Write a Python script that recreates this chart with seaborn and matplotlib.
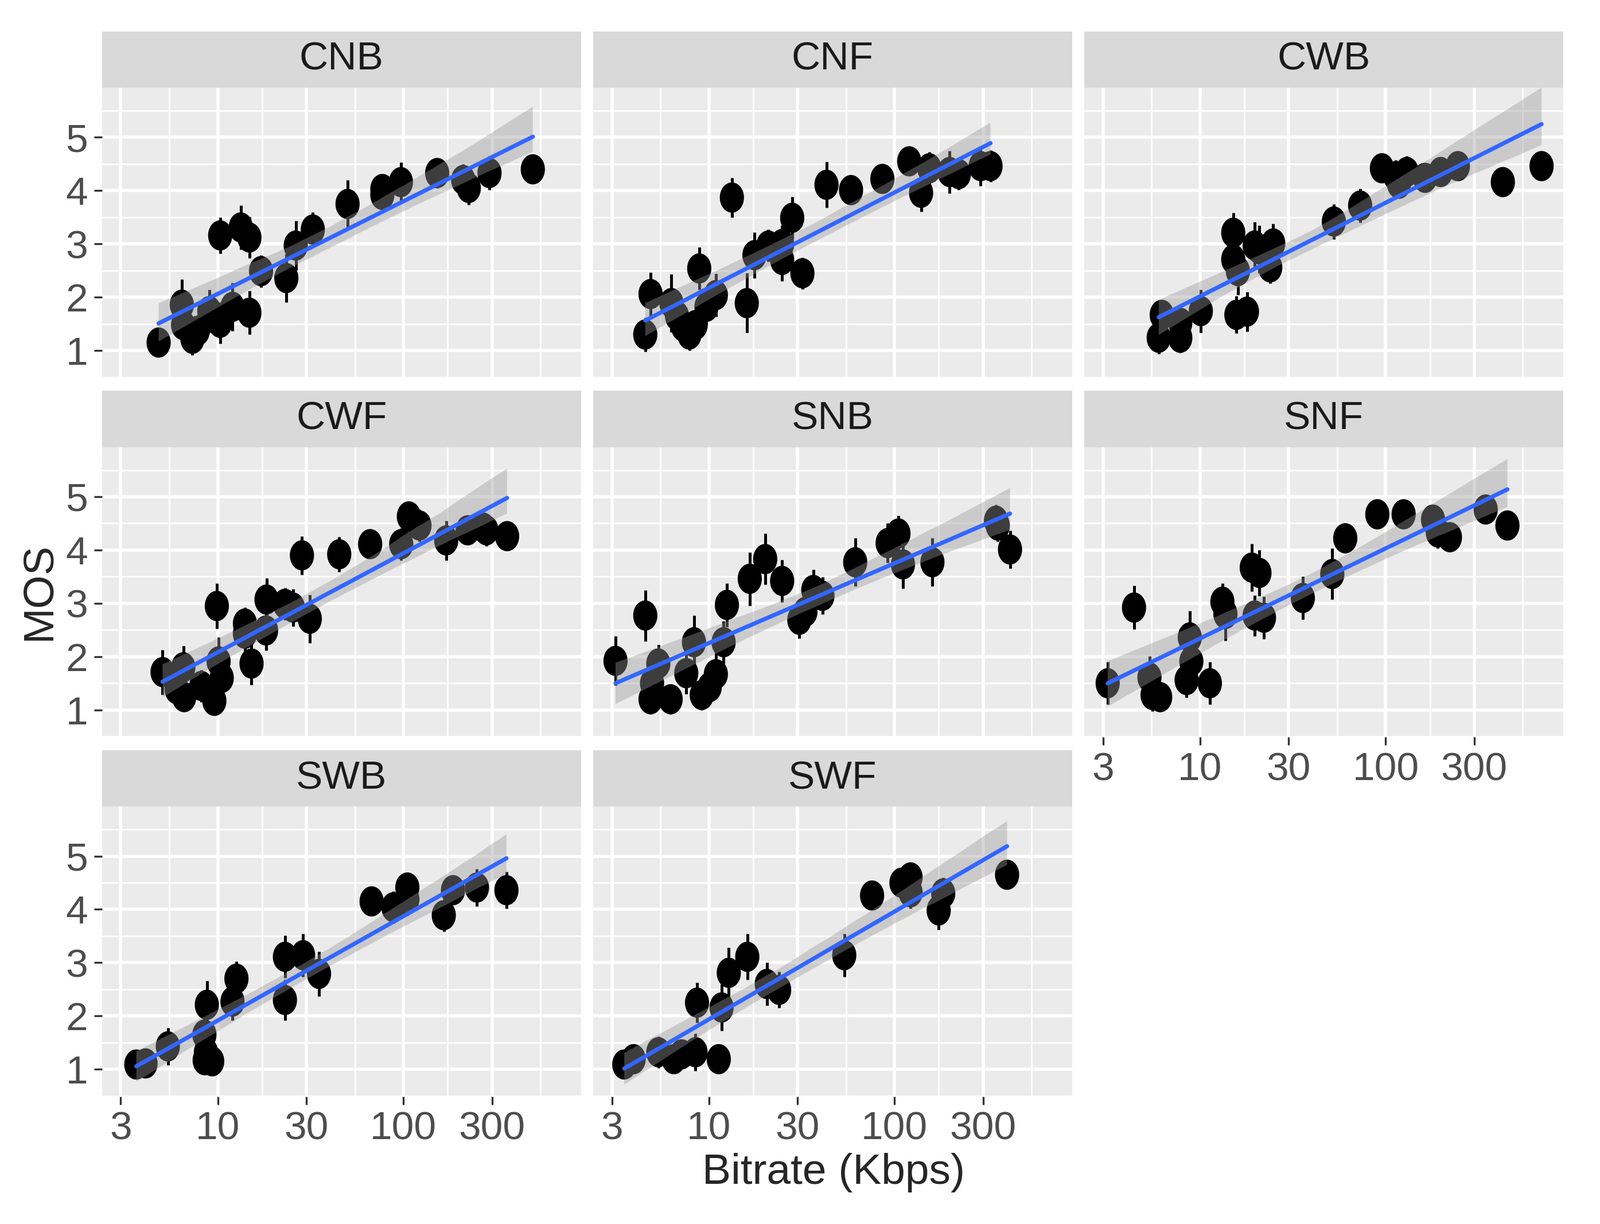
import numpy as np
import pandas as pd
import seaborn as sns
import matplotlib.pyplot as plt
from matplotlib.patches import Rectangle
from matplotlib.ticker import FixedLocator, NullFormatter

# panel order (facet_wrap, 3 per row)
conditions = ["CNB", "CNF", "CWB", "CWF", "SNB", "SNF", "SWB", "SWF"]

# values: bitrate (Kbps), MOS, half-width of the error bar
cnb_bitrate = [4.8, 6.4, 6.5, 7.3, 7.8, 9.0, 10.3, 10.3, 12.0, 13.3, 14.8, 14.8, 17.1,
               23.4, 26.3, 32.5, 50, 77, 77, 97, 152, 210, 225, 291, 498]
cnb_mos = [1.15, 1.86, 1.48, 1.22, 1.37, 1.74, 1.52, 3.16, 1.82, 3.31, 3.12, 1.71, 2.49,
           2.36, 2.97, 3.27, 3.75, 4.03, 3.92, 4.16, 4.33, 4.20, 4.05, 4.33, 4.40]
cnb_ci = [0.15, 0.48, 0.30, 0.30, 0.30, 0.40, 0.39, 0.34, 0.45, 0.41, 0.39, 0.41, 0.30,
          0.45, 0.46, 0.32, 0.45, 0.28, 0.30, 0.37, 0.28, 0.30, 0.32, 0.32, 0.25]

cnf_bitrate = [4.54, 4.85, 6.28, 6.73, 7.26, 7.85, 8.48, 8.87, 9.7, 10.9, 13.3, 16.0, 17.6,
               20.9, 24.8, 24.8, 28.1, 31.9, 43, 58.3, 86, 120, 139, 154, 198, 222, 291, 329]
cnf_mos = [1.30, 2.06, 1.89, 1.65, 1.45, 1.30, 1.48, 2.54, 1.82, 2.04, 3.87, 1.89, 2.79,
           2.97, 3.00, 2.70, 3.49, 2.45, 4.11, 4.01, 4.22, 4.55, 3.96, 4.42, 4.35, 4.31, 4.46, 4.46]
cnf_ci = [0.32, 0.41, 0.54, 0.40, 0.30, 0.30, 0.35, 0.40, 0.35, 0.40, 0.37, 0.56, 0.43,
          0.30, 0.35, 0.40, 0.40, 0.30, 0.43, 0.28, 0.27, 0.25, 0.35, 0.30, 0.40, 0.30, 0.37, 0.30]

cwb_bitrate = [5.99, 6.22, 7.83, 7.83, 10.1, 15.1, 15.1, 15.7, 17.9, 16.0, 19.7, 20.9, 24.8,
               23.9, 52.6, 72.9, 95.5, 113, 130, 118, 163, 198, 245, 428, 692]
cwb_mos = [1.24, 1.67, 1.24, 1.52, 1.74, 3.21, 2.71, 1.67, 1.73, 2.49, 2.97, 2.90, 3.01,
           2.56, 3.42, 3.72, 4.42, 4.27, 4.35, 4.13, 4.24, 4.35, 4.46, 4.16, 4.46]
cwb_ci = [0.30, 0.28, 0.28, 0.30, 0.40, 0.37, 0.40, 0.35, 0.37, 0.45, 0.44, 0.45, 0.37,
          0.30, 0.33, 0.32, 0.23, 0.30, 0.30, 0.25, 0.27, 0.25, 0.25, 0.24, 0.25]

cwf_bitrate = [5.04, 6.52, 6.59, 6.0, 8.15, 9.58, 9.88, 10.5, 10.1, 14.0, 14.0, 15.2, 18.3,
               18.2, 23.0, 25.4, 28.4, 31.3, 45.1, 66.2, 97.3, 107, 122, 170, 222, 269, 280, 362]
cwf_mos = [1.71, 1.80, 1.24, 1.39, 1.45, 1.17, 2.95, 1.60, 1.91, 2.62, 2.43, 1.87, 3.07,
           2.49, 2.99, 2.92, 3.90, 2.71, 3.92, 4.11, 4.11, 4.63, 4.46, 4.18, 4.37, 4.42, 4.37, 4.26]
cwf_ci = [0.42, 0.40, 0.25, 0.30, 0.30, 0.25, 0.43, 0.40, 0.45, 0.30, 0.35, 0.40, 0.40,
          0.37, 0.30, 0.35, 0.36, 0.45, 0.33, 0.25, 0.30, 0.22, 0.30, 0.37, 0.25, 0.25, 0.30, 0.22]

snb_bitrate = [3.14, 4.54, 4.85, 5.34, 4.94, 6.22, 7.55, 8.31, 9.15, 10.1, 10.9, 12.0, 12.5,
               16.6, 20.1, 24.8, 30.7, 36.5, 40.9, 33.1, 61.4, 91.8, 105, 111, 160, 352, 360, 419]
snb_mos = [1.92, 2.77, 1.20, 1.87, 1.50, 1.20, 1.69, 2.27, 1.28, 1.43, 1.67, 2.27, 2.97,
           3.46, 3.83, 3.42, 2.69, 3.25, 3.14, 2.84, 3.77, 4.13, 4.31, 3.73, 3.77, 4.55, 4.46, 4.01]
snb_ci = [0.46, 0.48, 0.28, 0.35, 0.30, 0.28, 0.39, 0.50, 0.28, 0.30, 0.40, 0.40, 0.41,
          0.50, 0.48, 0.40, 0.35, 0.38, 0.35, 0.35, 0.45, 0.37, 0.33, 0.45, 0.45, 0.30, 0.30, 0.35]

snf_bitrate = [3.18, 4.41, 5.34, 5.55, 6.1, 8.81, 8.98, 8.47, 11.3, 13.2, 13.7, 19.0, 20.9,
               19.7, 22.1, 35.8, 51.6, 60.6, 90.2, 125, 180, 191, 222, 346, 453]
snf_mos = [1.50, 2.92, 1.61, 1.28, 1.24, 2.36, 1.91, 1.56, 1.50, 3.03, 2.80, 3.67, 3.57,
           2.77, 2.73, 3.10, 3.55, 4.22, 4.67, 4.67, 4.57, 4.33, 4.24, 4.76, 4.46]
snf_ci = [0.40, 0.41, 0.40, 0.30, 0.28, 0.50, 0.40, 0.33, 0.40, 0.35, 0.50, 0.45, 0.43,
          0.38, 0.40, 0.40, 0.48, 0.28, 0.23, 0.27, 0.25, 0.30, 0.27, 0.20, 0.27]

swb_bitrate = [3.64, 4.08, 5.38, 8.47, 8.63, 8.5, 9.33, 8.73, 12.0, 12.6, 23.0, 23.0, 28.8,
               35.1, 67.4, 88.3, 105, 105, 165, 185, 249, 359]
swb_mos = [1.09, 1.11, 1.43, 1.65, 1.32, 1.17, 1.15, 2.21, 2.27, 2.70, 3.11, 2.30, 3.14,
           2.79, 4.15, 4.04, 4.41, 4.19, 3.89, 4.36, 4.41, 4.36]
swb_ci = [0.15, 0.20, 0.35, 0.30, 0.30, 0.25, 0.22, 0.45, 0.35, 0.33, 0.40, 0.38, 0.40,
          0.42, 0.25, 0.30, 0.28, 0.30, 0.30, 0.25, 0.35, 0.34]

swf_bitrate = [3.50, 3.93, 5.34, 6.47, 7.13, 8.47, 8.63, 11.3, 11.7, 12.8, 16.1, 20.5, 23.9,
               53.6, 75.7, 109, 122, 122, 173, 183, 404]
swf_mos = [1.09, 1.19, 1.32, 1.19, 1.28, 1.32, 2.25, 1.19, 2.16, 2.81, 3.11, 2.60, 2.49,
           3.14, 4.26, 4.50, 4.60, 4.32, 3.98, 4.30, 4.65]
swf_ci = [0.15, 0.22, 0.30, 0.25, 0.25, 0.35, 0.38, 0.22, 0.44, 0.47, 0.43, 0.40, 0.34,
          0.40, 0.22, 0.25, 0.25, 0.30, 0.36, 0.30, 0.24]

x_breaks = [3, 10, 30, 100, 300]
x_labels = ["3", "10", "30", "100", "300"]
y_breaks = [1, 2, 3, 4, 5]

series = [
    ("CNB", cnb_bitrate, cnb_mos, cnb_ci),
    ("CNF", cnf_bitrate, cnf_mos, cnf_ci),
    ("CWB", cwb_bitrate, cwb_mos, cwb_ci),
    ("CWF", cwf_bitrate, cwf_mos, cwf_ci),
    ("SNB", snb_bitrate, snb_mos, snb_ci),
    ("SNF", snf_bitrate, snf_mos, snf_ci),
    ("SWB", swb_bitrate, swb_mos, swb_ci),
    ("SWF", swf_bitrate, swf_mos, swf_ci),
]
df = pd.concat(
    [pd.DataFrame({"cond": c, "bitrate": b, "mos": m, "ci": e}) for c, b, m, e in series],
    ignore_index=True,
)

sns.set_theme(style="darkgrid", rc={
    "axes.facecolor": "#EBEBEB",
    "grid.color": "white",
    "axes.linewidth": 0,
})
plt.rcParams["font.family"] = ["Liberation Sans", "DejaVu Sans"]

# slightly tall points, like in the reference
t = np.linspace(0, 2 * np.pi, 60)
ellipse = np.column_stack([0.8 * np.cos(t), np.sin(t)])


def draw_panel(data, **kws):
    ax = plt.gca()
    ax.vlines(data["bitrate"], data["mos"] - data["ci"], data["mos"] + data["ci"],
              color="black", lw=1.8, zorder=2)
    sns.scatterplot(data=data, x="bitrate", y="mos", marker=ellipse, s=360,
                    color="black", edgecolor="none", linewidth=0, ax=ax, zorder=3)
    sns.regplot(data=data, x="bitrate", y="mos", logx=True, scatter=False, ci=95,
                n_boot=1000, seed=0, color="#3366FF", ax=ax,
                line_kws={"lw": 2.6, "zorder": 5})
    band = ax.collections[-1]
    band.set_facecolor("#999999")
    band.set_edgecolor("none")
    band.set_alpha(0.4)
    band.set_zorder(4)


g = sns.FacetGrid(df, col="cond", col_order=conditions, col_wrap=3,
                  height=3, aspect=1.6, sharex=True, sharey=True, despine=False)
g.map_dataframe(draw_panel)
g.set_axis_labels("", "")
g.set_titles(col_template="")

fig = g.figure
fig.set_size_inches(13.945, 10.67)
fig.subplots_adjust(left=0.0638, right=0.977, top=0.9283, bottom=0.1042,
                    wspace=0.0255, hspace=0.2394)

minor_x = [np.sqrt(3 * 10), np.sqrt(10 * 30), np.sqrt(30 * 100), np.sqrt(100 * 300),
           np.sqrt(300 * 1000)]
minor_y = [0.5, 1.5, 2.5, 3.5, 4.5, 5.5]

# the axes are shared, so set the scale once before fixing the locators
g.axes.flat[0].set_xscale("log")

n = len(conditions)
for i, (ax, name) in enumerate(zip(g.axes.flat, conditions)):
    ax.set_xticks(x_breaks)
    ax.set_xticklabels(x_labels)
    ax.xaxis.set_minor_locator(FixedLocator(minor_x))
    ax.xaxis.set_minor_formatter(NullFormatter())
    ax.set_yticks(y_breaks)
    ax.yaxis.set_minor_locator(FixedLocator(minor_y))
    ax.set_xlim(2.38, 905)
    ax.set_ylim(0.49, 5.93)
    ax.set_axisbelow(True)
    ax.grid(which="major", color="white", lw=2.0)
    ax.grid(which="minor", color="white", lw=1.0)
    for s in ax.spines.values():
        s.set_visible(False)

    is_bottom = i + 3 >= n
    is_left = i % 3 == 0
    ax.tick_params(axis="x", which="major", bottom=is_bottom, labelbottom=is_bottom,
                   length=5, width=1.2, color="#333333", labelcolor="#4D4D4D",
                   labelsize=25, pad=4)
    ax.tick_params(axis="y", which="major", left=is_left, labelleft=is_left,
                   length=5, width=1.2, color="#333333", labelcolor="#4D4D4D",
                   labelsize=25, pad=4)
    ax.tick_params(which="minor", length=0)

    # ggplot-like strip on top of each panel
    ax.add_patch(Rectangle((0, 1), 1, 0.194, transform=ax.transAxes,
                           facecolor="#D9D9D9", edgecolor="none", clip_on=False))
    ax.text(0.5, 1.097, name, transform=ax.transAxes, ha="center", va="center",
            fontsize=25, color="#1A1A1A")

fig.text(0.0242, 0.517, "MOS", rotation=90, ha="center", va="center", fontsize=27)
fig.text(0.521, 0.042, "Bitrate (Kbps)", ha="center", va="center", fontsize=27)

fig.savefig("out.png", dpi=200, facecolor="white")
